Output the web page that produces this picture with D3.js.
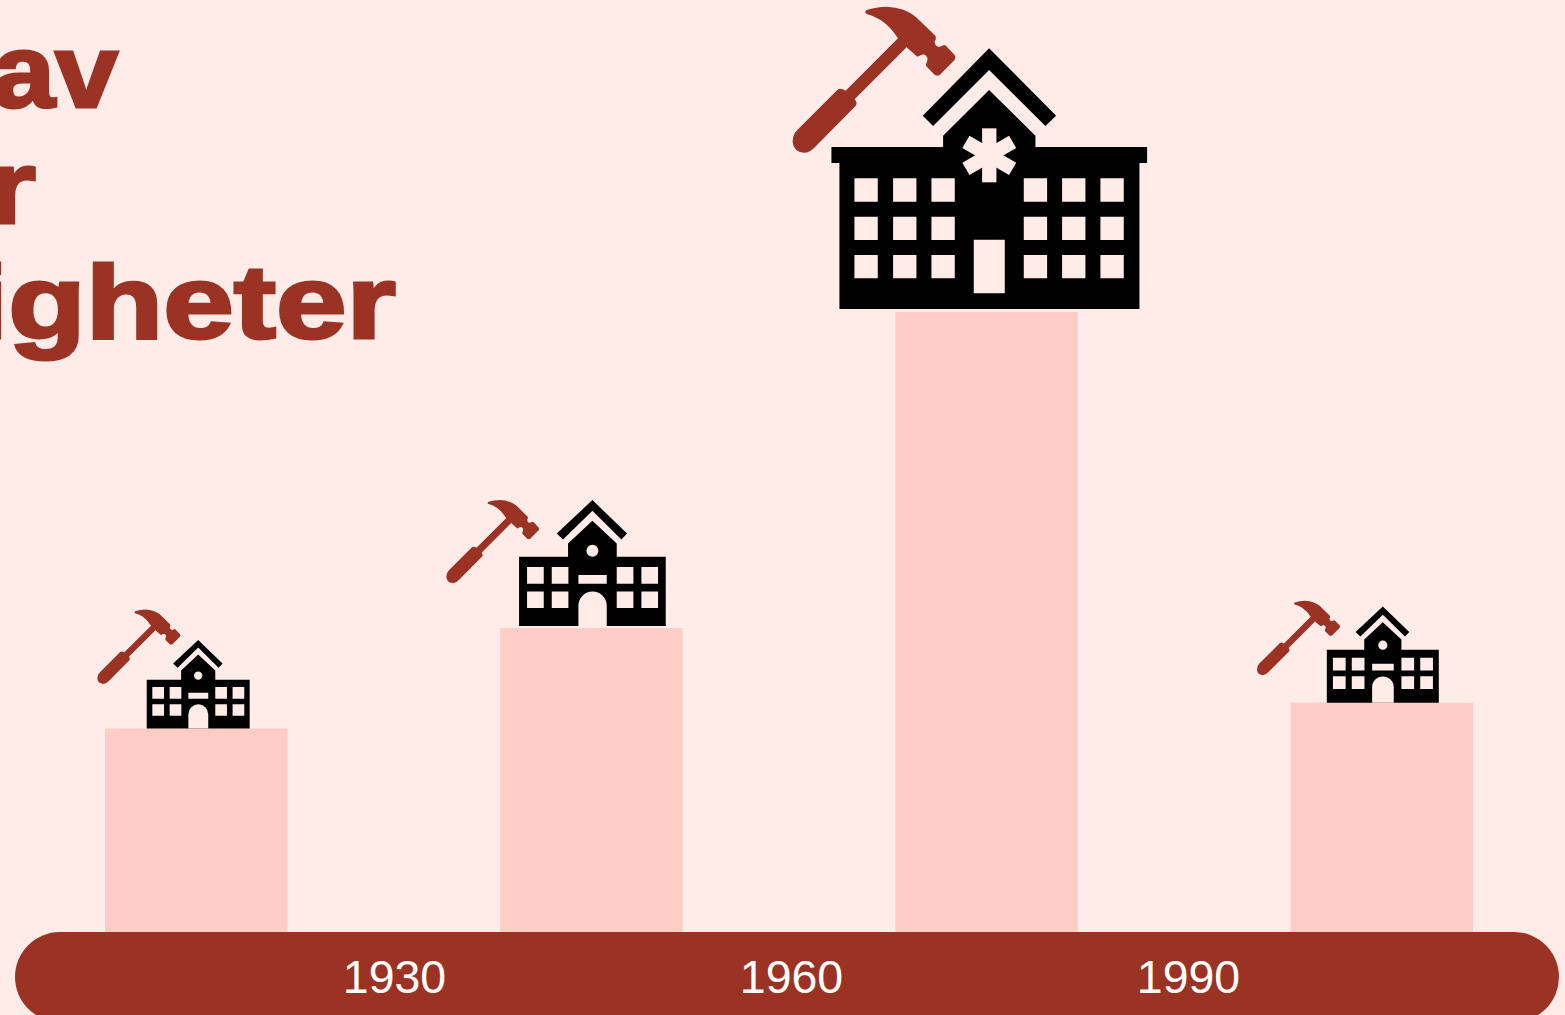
<!DOCTYPE html>
<html>
<head>
<meta charset="utf-8">
<script src="https://cdn.jsdelivr.net/npm/d3@7"></script>
<style>
    html, body { margin: 0; background: #ffebe8; overflow: hidden; }
    svg { display: block; }
    text { font-family: "Liberation Sans", Arial, sans-serif; }
</style>
</head>
<body>
<div class="graph-container"></div>
<script>
// chart data (share per building period, no axis in the original)
const periods = ['före 1930', '1930-1960', '1960-1990', 'efter 1990'];
const shares = [15, 22.4, 45.7, 16.9];
const tickYears = [1930, 1960, 1990];
const titleLines = ['av', 'r', 'igheter'];
const iconTypes = ['school', 'school', 'hospital', 'school'];

// chart constants
const [width, height] = [1565, 1015];
const baseline = 932;
const bg = '#ffebe8', barColor = '#ffcdc6', dark = '#9a3324';

const xBars = d3.scaleBand().domain(periods).range([105, 1473]).paddingInner(0.5385);
const xYears = d3.scaleLinear().domain([1930, 1990]).range([394, 1188]);
const y = d3.scaleLinear().domain([0, 45.7]).range([baseline, 312]);

const svgArea = d3.select('div.graph-container')
    .append('svg')
    .attr('width', width)
    .attr('height', height);

svgArea.append('rect').attr('width', width).attr('height', height).attr('fill', bg);

// title, cut off by the left edge like in the original.
// no Arial Black installed, so bold is stretched and stroked to get the same weight
const titleEnds = [118, 36, 396];
const titleBaselines = [107, 222.5, 338];
const titleStretch = [1.09, 1.19, 1.22];
svgArea.append('g')
    .selectAll('text')
    .data(titleLines)
    .enter()
    .append('text')
    .attr('transform', (d, i) => `translate(${titleEnds[i]},${titleBaselines[i]}) scale(${titleStretch[i]},1)`)
    .attr('text-anchor', 'end')
    .attr('font-size', 104)
    .attr('font-weight', 'bold')
    .attr('fill', dark)
    .attr('stroke', dark)
    .attr('stroke-width', 3)
    .text(d => d);

// bars
svgArea.append('g')
    .selectAll('rect')
    .data(shares)
    .enter()
    .append('rect')
    .attr('x', (d, i) => xBars(periods[i]))
    .attr('y', d => y(d))
    .attr('width', xBars.bandwidth())
    .attr('height', d => baseline - y(d))
    .attr('fill', barColor);

// bottom band with the year axis
svgArea.append('rect')
    .attr('x', 15).attr('y', baseline)
    .attr('width', 1544).attr('height', 90)
    .attr('rx', 45)
    .attr('fill', dark);

const axis = svgArea.append('g')
    .attr('transform', `translate(0,${baseline})`)
    .call(d3.axisBottom(xYears).tickValues(tickYears).tickFormat(d3.format('d')).tickSize(0));
axis.select('.domain').remove();
axis.selectAll('text')
    .attr('y', 0)
    .attr('dy', 61)
    .attr('font-size', 46.5)
    .attr('font-family', '"Liberation Sans", Arial, sans-serif')
    .attr('fill', '#fff');

// icons are traced in their own coordinates and placed relative to the bar top
const hammerPath = 'M258 30 Q285 21 320 20 Q370 22 405 50 L465 108 Q468 118 462 125 Q464 142 478 140 L490 135 Q495 135 500 142 L522 165 Q527 172 522 180 L478 224 Q470 229 462 224 L440 202 Q433 195 438 188 Q446 170 430 163 Q420 166 410 170 L378 142 L222 298 Q232 308 225 318 L104 440 Q88 458 70 458 Q38 455 36 425 Q36 405 50 390 L170 270 Q180 262 195 272 L352 115 Q330 80 300 60 Q280 47 258 42 Q250 36 258 30 Z';

const rect = (x0, y0, x1, y1) => `M${x0} ${y0}H${x1}V${y1}H${x0}Z`;
const hospitalBody = [
    'M626 145L827 347L795 378L626 210L458 378L427 347Z',
    rect(153, 441, 1100, 489),
    rect(177, 489, 1077, 927),
    'M488 441V407L626 270L765 407V441Z'
].join('');
const schoolBody = [
    'M456 30L560 130L543 148L456 62L368 148L349 130Z',
    rect(236, 200, 676, 408),
    'M383 200V160L456 92L529 160V200Z'
].join('');

const hospitalCols = [222, 338, 453, 730, 845, 960];
const hospitalRows = [535, 650, 765];
const schoolCols = [260, 334, 529, 603];
const schoolRows = [231, 304];

const grid = (cols, rows, size) => cols.flatMap(c => rows.map(r => rect(c, r, c + size, r + size))).join('');

const icons = {
    hospital: {
        anchor: [626, 927],
        body: hospitalBody,
        holes: grid(hospitalCols, hospitalRows, 70) + rect(580, 719, 673, 880)
    },
    school: {
        anchor: [456, 408],
        body: schoolBody,
        holes: grid(schoolCols, schoolRows, 50) + rect(414, 255, 499, 281)
            + 'M414 408V347A42.5 42.5 0 0 1 499 347V408Z'
            + 'M438 182A18 18 0 0 1 474 182A18 18 0 0 1 438 182Z'
    }
};

// placement per bar: building [dx, dy, scale], hammer [dx, dy, scale]
const buildingPlace = [[2, 0, 0.234], [1, -2, 1 / 3], [2.5, -3, 1 / 3], [1, 0, 0.2545]];
const hammerPlace = [[-105, -122.4, 0.17], [-152, -132, 0.19], [-206, -312, 1 / 3], [-131, -105.4, 0.17]];

const iconGroups = svgArea.append('g')
    .selectAll('g')
    .data(shares)
    .enter()
    .append('g')
    .attr('transform', (d, i) => `translate(${xBars(periods[i]) + xBars.bandwidth() / 2},${y(d)})`);

iconGroups.each(function (d, i) {
    const g = d3.select(this);
    const icon = icons[iconTypes[i]];
    const [dx, dy, s] = buildingPlace[i];
    const b = g.append('g')
        .attr('transform', `translate(${dx},${dy}) scale(${s}) translate(${-icon.anchor[0]},${-icon.anchor[1]})`);
    b.append('path').attr('d', icon.body).attr('fill', '#000');
    b.append('path').attr('d', icon.holes).attr('fill', bg);
    if (iconTypes[i] === 'hospital') {
        // star of life on the tower
        b.selectAll('rect')
            .data([0, 60, 120])
            .enter()
            .append('rect')
            .attr('x', 605).attr('y', 385)
            .attr('width', 43).attr('height', 162)
            .attr('fill', bg)
            .attr('transform', a => `rotate(${a} 626.5 466)`);
    }
    const [hx, hy, hs] = hammerPlace[i];
    g.append('path')
        .attr('d', hammerPath)
        .attr('fill', dark)
        .attr('transform', `translate(${hx},${hy}) scale(${hs})`);
});
</script>
</body>
</html>
